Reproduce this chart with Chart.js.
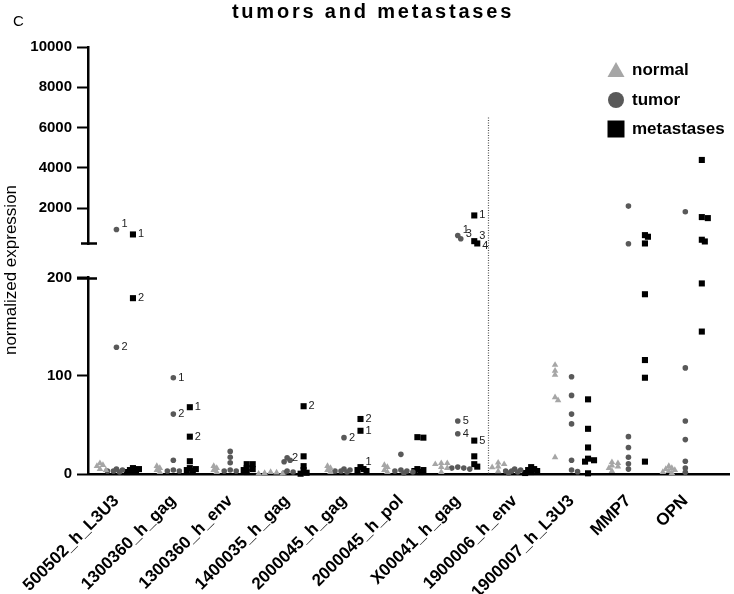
<!DOCTYPE html>
<html>
<head>
<meta charset="utf-8">
<script src="https://cdn.jsdelivr.net/npm/chart.js@4.4.1/dist/chart.umd.min.js"></script>
<style>
  html, body { margin: 0; padding: 0; background: #fff; }
  #wrap { width: 734px; height: 594px; position: relative; }
</style>
</head>
<body>
<div id="wrap"><canvas id="dotChart"></canvas></div>
<script>
const categories = [
  "500502_h_L3U3", "1300360_h_gag", "1300360_h_env", "1400035_h_gag",
  "2000045_h_gag", "2000045_h_pol", "X00041_h_gag", "1900006_h_env",
  "1900007_h_L3U3", "MMP7", "OPN",
];

// one list per category
const normalValues = [
  [11, 9, 8, 5, 4],
  [8, 6, 4, 2],
  [8, 6, 4, 2],
  [2, 1.5, 1, 0.5, 0.3],
  [8, 6, 4, 2],
  [9, 7, 4, 2],
  [11, 11, 10, 7, 6, 2],
  [11.5, 10, 7.5, 6.8, 2.7],
  [111, 105, 101, 78, 75, 17],
  [12, 11, 8.5, 7.5, 6, 3],
  [8, 6, 5, 4, 3, 2, 1],
];

const tumorValues = [
  [945, 129, 5, 4, 3, 3, 2],
  [98, 61, 14, 4, 3, 3],
  [23, 17, 11.5, 4, 3, 3],
  [16.6, 14, 12.5, 3, 2, 1],
  [37, 5, 4, 3, 3, 2],
  [20, 4, 3, 3, 2, 1],
  [647, 483, 54, 41, 7, 6, 6, 5],
  [5, 4, 3, 3, 2, 1],
  [99, 80, 61, 51, 14, 4, 2.4],
  [2105, 235, 38, 27, 17, 10.5, 5],
  [1826, 108, 54, 35, 13, 6, 1.7],
];

const metastasesValues = [
  [697, 179, 6, 5, 4, 3, 2],
  [68, 38, 13, 6, 5, 4, 3],
  [10, 10, 6, 5, 4, 2],
  [69, 18, 8, 4, 1.3, 0.3],
  [56, 44, 7, 5, 4, 3],
  [37.5, 37, 5, 4, 3, 2],
  [1640, 364, 250, 34, 18, 10, 7.5],
  [7, 5, 4, 3, 2, 1],
  [76, 46, 27, 15.6, 14, 12.6, 0.7],
  [663, 583, 250, 183, 116, 98, 12.6],
  [4394, 1558, 1508, 434, 349, 194, 145],
];

// [category, group, value, note]
const pointNotes = [
  [0, "tumor", 945, "1"], [0, "tumor", 129, "2"],
  [0, "metastases", 697, "1"], [0, "metastases", 179, "2"],
  [1, "tumor", 98, "1"], [1, "tumor", 61, "2"],
  [1, "metastases", 68, "1"], [1, "metastases", 38, "2"],
  [3, "tumor", 16.6, "2"], [3, "metastases", 69, "2"],
  [4, "tumor", 37, "2"], [4, "metastases", 56, "2"],
  [4, "metastases", 44, "1"], [4, "metastases", 7, "1"],
  [6, "tumor", 647, "1"], [6, "tumor", 483, "3"],
  [6, "metastases", 1640, "1"], [6, "metastases", 364, "3"], [6, "metastases", 250, "4"],
  [6, "tumor", 54, "5"], [6, "tumor", 41, "4"], [6, "metastases", 34, "5"],
];

const yUpperTicks = [2000, 4000, 6000, 8000, 10000];
const yLowerTicks = [0, 100, 200];
const axisBreak = 200;
const upperMax = 10000;
const dividerAt = 6.54;
const dividerTop = 6500;

const FONT = '"Liberation Sans", Arial, sans-serif';

// notes that sit as superscripts / subscripts next to their point
const noteShift = { "0|tumor|945": -5, "6|tumor|647": -5, "6|tumor|483": -5, "6|metastases|364": -5, "6|metastases|250": 3, "4|metastases|7": -5 };

const groups = [
  { key: "normal", label: "normal", values: normalValues, style: "triangle", color: "#a6a6a6", radius: 3.8, offset: -0.29 },
  { key: "tumor", label: "tumor", values: tumorValues, style: "circle", color: "#595959", radius: 2.8, offset: 0 },
  { key: "metastases", label: "metastases", values: metastasesValues, style: "rect", color: "#000000", radius: 4.3, offset: 0.29 },
];

function findNote(cat, key, v) {
  const n = pointNotes.find((p) => p[0] === cat && p[1] === key && p[2] === v);
  return n ? n[3] : null;
}

const datasets = [];
groups.forEach((g) => {
  ["yLow", "yTop"].forEach((axis) => {
    const data = [];
    g.values.forEach((list, cat) => {
      list.forEach((v) => {
        const upper = v > axisBreak;
        if ((axis === "yTop") !== upper) return;
        data.push({ x: cat + g.offset, y: v, cat: cat, group: g.key, note: findNote(cat, g.key, v) });
      });
    });
    datasets.push({
      label: g.label,
      data: data,
      yAxisID: axis,
      pointStyle: g.style,
      pointRadius: g.radius,
      pointBackgroundColor: g.color,
      pointBorderColor: g.color,
      pointBorderWidth: 0,
      showLine: false,
      clip: false,
    });
  });
});

const decorations = {
  id: "decorations",
  afterDraw(chart) {
    const ctx = chart.ctx;
    const x = chart.scales.x;
    const top = chart.scales.yTop;
    const low = chart.scales.yLow;
    ctx.save();

    // panel letter and title
    ctx.fillStyle = "#000";
    ctx.font = "15px " + FONT;
    ctx.textAlign = "left";
    ctx.textBaseline = "alphabetic";
    ctx.fillText("C", 13, 26);
    ctx.font = "bold 20px " + FONT;
    ctx.letterSpacing = "2.8px";
    ctx.textAlign = "center";
    ctx.fillText("tumors and metastases", 373, 18);
    ctx.letterSpacing = "0px";

    // y title
    ctx.save();
    ctx.translate(11, 270);
    ctx.rotate(-Math.PI / 2);
    ctx.font = "17px " + FONT;
    ctx.textBaseline = "middle";
    ctx.fillText("normalized expression", 0, 0);
    ctx.restore();

    // axis break caps
    const ax = top.right;
    ctx.strokeStyle = "#000";
    ctx.lineWidth = 2.5;
    ctx.beginPath();
    ctx.moveTo(ax - 7, top.bottom - 1);
    ctx.lineTo(ax + 9, top.bottom - 1);
    ctx.moveTo(ax - 11, low.top + 1);
    ctx.lineTo(ax + 9, low.top + 1);
    ctx.stroke();

    // dotted divider
    const dx = x.getPixelForValue(dividerAt);
    ctx.strokeStyle = "#555";
    ctx.lineWidth = 1.2;
    ctx.setLineDash([1, 1.5]);
    ctx.beginPath();
    ctx.moveTo(dx, top.getPixelForValue(dividerTop));
    ctx.lineTo(dx, low.getPixelForValue(0));
    ctx.stroke();
    ctx.setLineDash([]);

    // legend
    const lx = 616;
    const rows = [70, 100, 129];
    groups.forEach((g, i) => {
      const cy = rows[i];
      ctx.fillStyle = g.color;
      ctx.beginPath();
      if (g.style === "triangle") {
        ctx.moveTo(lx, cy - 8);
        ctx.lineTo(lx + 8.5, cy + 7);
        ctx.lineTo(lx - 8.5, cy + 7);
        ctx.closePath();
      } else if (g.style === "circle") {
        ctx.arc(lx, cy, 8, 0, Math.PI * 2);
      } else {
        ctx.rect(lx - 8.5, cy - 8.5, 17, 17);
      }
      ctx.fill();
      ctx.fillStyle = "#000";
      ctx.font = "bold 17px " + FONT;
      ctx.textAlign = "left";
      ctx.textBaseline = "middle";
      ctx.fillText(g.label, 632, cy);
    });
    ctx.restore();
  },
  afterDatasetsDraw(chart) {
    const ctx = chart.ctx;
    ctx.save();
    ctx.font = "11px " + FONT;
    ctx.fillStyle = "#222";
    ctx.textAlign = "left";
    ctx.textBaseline = "middle";
    chart.data.datasets.forEach((ds, di) => {
      chart.getDatasetMeta(di).data.forEach((el, j) => {
        const raw = ds.data[j];
        if (!raw.note) return;
        const dy = noteShift[raw.cat + "|" + raw.group + "|" + raw.y] || 0;
        ctx.fillText(raw.note, el.x + 5, el.y + dy);
      });
    });
    ctx.restore();
  },
};

const yScaleBase = (weight, stackWeight) => ({
  type: "linear",
  position: "left",
  stack: "y",
  weight: weight,
  stackWeight: stackWeight,
  afterFit: (s) => { s.width = 88; },
  border: { display: true, color: "#000", width: 2.5 },
  grid: { drawOnChartArea: false, drawTicks: true, tickLength: 11, tickColor: "#000", tickWidth: 2 },
  ticks: {
    padding: 5,
    color: "#000",
    font: { family: FONT, size: 15, weight: "bold" },
    callback: (v) => String(v),
  },
});

const chart = new Chart(document.getElementById("dotChart"), {
  type: "scatter",
  data: { datasets: datasets },
  plugins: [decorations],
  options: {
    responsive: true,
    maintainAspectRatio: false,
    animation: false,
    layout: { padding: { top: 47, right: 1, left: 0, bottom: 0 } },
    plugins: { legend: { display: false }, tooltip: { enabled: false }, title: { display: false } },
    scales: {
      x: {
        type: "linear",
        min: -0.5,
        max: 10.78,
        afterBuildTicks: (s) => { s.ticks = categories.map((_, i) => ({ value: i })); },
        afterFit: (s) => { s.height = 120; },
        grid: { display: false, drawTicks: false },
        border: { display: true, color: "#000", width: 2.5 },
        ticks: {
          autoSkip: false,
          minRotation: 45,
          maxRotation: 45,
          padding: 17,
          color: "#000",
          font: { family: FONT, size: 17, weight: "bold" },
          callback: (v) => categories[v] ?? "",
        },
      },
      yTop: Object.assign(yScaleBase(3, 197), {
        min: axisBreak,
        max: upperMax,
        afterBuildTicks: (s) => { s.ticks = yUpperTicks.map((v) => ({ value: v })); },
      }),
      yGap: {
        type: "linear",
        position: "left",
        stack: "y",
        weight: 2,
        stackWeight: 33,
        afterFit: (s) => { s.width = 88; },
        border: { display: false },
        grid: { display: false },
        ticks: { display: false },
      },
      yLow: Object.assign(yScaleBase(1, 196), {
        min: 0,
        max: axisBreak,
        afterBuildTicks: (s) => { s.ticks = yLowerTicks.map((v) => ({ value: v })); },
      }),
    },
  },
});

// spread overlapping points sideways, like a dot plot
function spreadPoints() {
  const xs = chart.scales.x;
  const buckets = {};
  chart.data.datasets.forEach((ds) => {
    const ys = chart.scales[ds.yAxisID];
    ds.data.forEach((p) => {
      const k = p.cat + "_" + p.group;
      (buckets[k] = buckets[k] || []).push({ p: p, py: ys.getPixelForValue(p.y) });
    });
  });
  Object.values(buckets).forEach((list) => {
    list.sort((a, b) => a.py - b.py);
    const g = groups.find((gg) => gg.key === list[0].p.group);
    const cx = xs.getPixelForValue(list[0].p.cat + g.offset);
    const placed = [];
    list.forEach((item) => {
      let shift = 0;
      for (let k = 0; k < 30; k++) {
        const cand = k === 0 ? 0 : (k % 2 ? 1 : -1) * Math.ceil(k / 2) * 3;
        const ok = placed.every((q) => Math.hypot(q.px - (cx + cand), q.py - item.py) >= 3.4);
        if (ok) { shift = cand; break; }
      }
      placed.push({ px: cx + shift, py: item.py });
      item.p.x = xs.getValueForPixel(cx + shift);
    });
  });
  chart.update("none");
}
spreadPoints();
</script>
</body>
</html>
